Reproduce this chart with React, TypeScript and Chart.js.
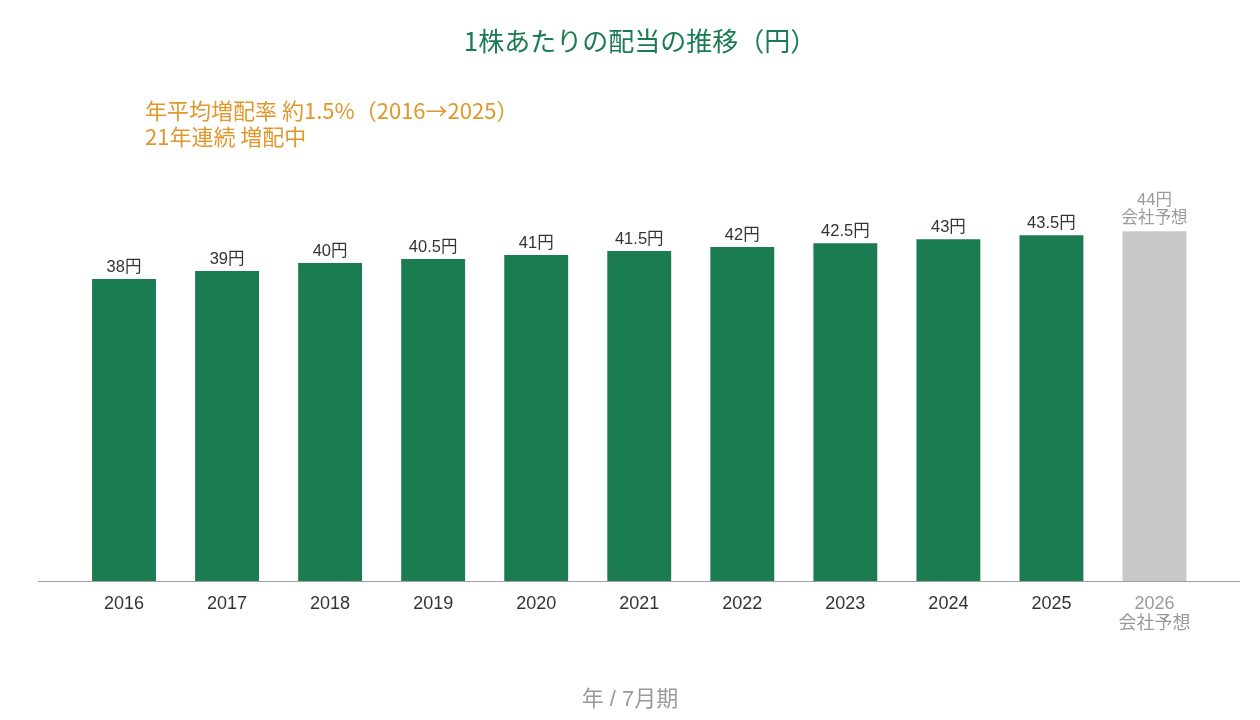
import React, { useEffect, useRef } from "react";
import { Chart, registerables } from "chart.js";

Chart.register(...registerables);

const categories: string[] = ["2016", "2017", "2018", "2019", "2020", "2021", "2022", "2023", "2024", "2025", "2026"];
const dividends: number[] = [38, 39, 40, 40.5, 41, 41.5, 42, 42.5, 43, 43.5, 44];
const forecastIndex = 10;
const forecastNote = "会社予想";
const chartTitle = "1株あたりの配当の推移（円）";
const noteLines: string[] = ["年平均増配率 約1.5%（2016→2025）", "21年連続 増配中"];
const xAxisTitle = "年 / 7月期";

const FONT = "'Liberation Sans', 'Noto Sans CJK JP', sans-serif";
const JFONT = "'Noto Sans CJK JP', sans-serif";
const GREEN = "#1b7b51";
const GREY_BAR = "#c8c8c8";
const GREY_TEXT = "#9a9a9a";
const DARK = "#333333";
const ORANGE = "#e0982c";

const decorPlugin = {
  id: "decor",
  afterDatasetsDraw(chart: any) {
    const ctx = chart.ctx;
    const meta = chart.getDatasetMeta(0);
    const yScale = chart.scales.y;
    ctx.save();
    // baseline
    const y0 = Math.round(yScale.getPixelForValue(0)) + 0.5;
    ctx.strokeStyle = "#a0a0a0";
    ctx.lineWidth = 1;
    ctx.beginPath();
    ctx.moveTo(38, y0);
    ctx.lineTo(1240, y0);
    ctx.stroke();

    // value labels
    ctx.textAlign = "center";
    ctx.textBaseline = "middle";
    ctx.font = `16.5px ${FONT}`;
    meta.data.forEach((bar: any, i: number) => {
      const v = dividends[i];
      if (i === forecastIndex) {
        ctx.fillStyle = GREY_TEXT;
        ctx.fillText(`${v}円`, bar.x, bar.y - 31);
        ctx.fillText(forecastNote, bar.x, bar.y - 12.5);
      } else {
        ctx.fillStyle = DARK;
        ctx.fillText(`${v}円`, bar.x, bar.y - 11.5);
      }
    });

    // title
    ctx.fillStyle = GREEN;
    ctx.font = `26px ${JFONT}`;
    ctx.fillText(chartTitle, 640, 41.5);

    // note
    ctx.textAlign = "left";
    ctx.fillStyle = ORANGE;
    ctx.font = `22px ${JFONT}`;
    noteLines.forEach((t, i) => ctx.fillText(t, 145, 111 + i * 25.5));

    // x axis title
    ctx.textAlign = "center";
    ctx.fillStyle = GREY_TEXT;
    ctx.font = `22px ${FONT}`;
    ctx.fillText(xAxisTitle, 630, 699.5);
    ctx.restore();
  },
};

export default function App() {
  const ref = useRef<HTMLCanvasElement | null>(null);
  useEffect(() => {
    if (!ref.current) return;
    const chart = new Chart(ref.current, {
      type: "bar",
      data: {
        labels: categories.map((c, i) => (i === forecastIndex ? [c, forecastNote] : c)) as any,
        datasets: [
          {
            data: dividends,
            backgroundColor: dividends.map((_, i) => (i === forecastIndex ? GREY_BAR : GREEN)),
            barPercentage: 0.62,
            categoryPercentage: 1,
          },
        ],
      },
      options: {
        animation: false,
        responsive: true,
        maintainAspectRatio: false,
        layout: { padding: { top: 183.5, left: 72.5, right: 54, bottom: 0 } },
        plugins: { legend: { display: false }, tooltip: { enabled: false }, title: { display: false } },
        scales: {
          x: {
            offset: true,
            grid: { display: false, drawTicks: false },
            border: { display: false },
            ticks: {
              padding: 13,
              font: { family: FONT, size: 18, lineHeight: 1.12 },
              color: (c: any) => (c.index === forecastIndex ? GREY_TEXT : DARK),
            },
            afterFit: (scale: any) => {
              scale.height = 720 - 581;
            },
          },
          y: { display: false, min: 0, max: 50 },
        },
      },
      plugins: [decorPlugin],
    });
    return () => chart.destroy();
  }, []);
  return (
    <div style={{ position: "fixed", left: 0, top: 0, width: 1260, height: 720, background: "#fff" }}>
      <canvas ref={ref} />
    </div>
  );
}
